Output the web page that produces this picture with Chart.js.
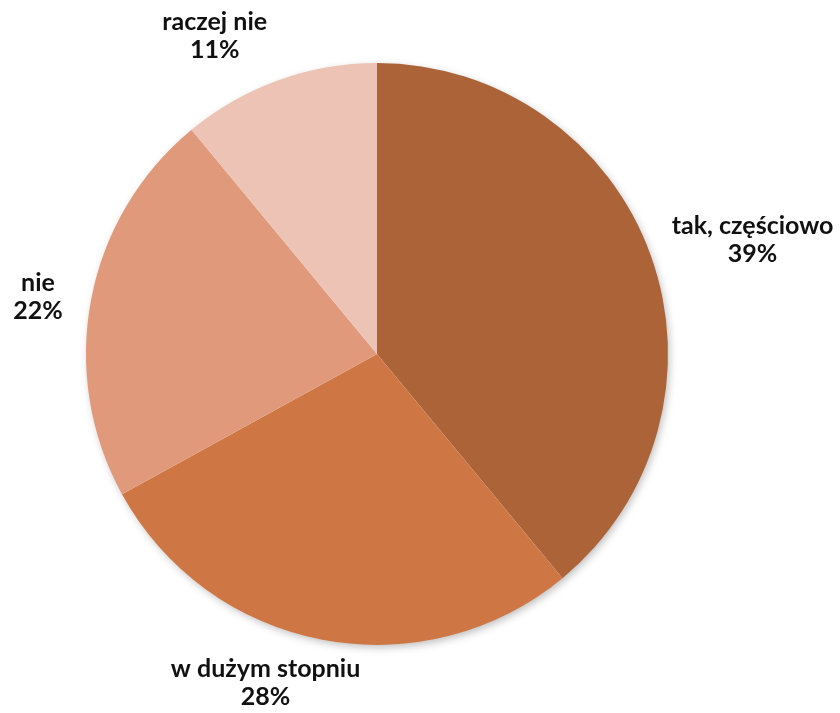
<!DOCTYPE html>
<html>
<head>
<meta charset="utf-8">
<script src="https://cdn.jsdelivr.net/npm/chart.js@4"></script>
<style>
  html, body { margin: 0; padding: 0; background: #fff; }
  #wrap { width: 840px; height: 713px; }
</style>
</head>
<body>
<div id="wrap"><canvas id="myChart" width="840" height="713"></canvas></div>
<script>
  // data block
  const labels = ['tak, częściowo', 'w dużym stopniu', 'nie', 'raczej nie'];
  const values = [39, 28, 22, 11];
  const colors = ['#AD6338', '#CE7744', '#E0997A', '#EDC3B5'];

  // label placement tweaks (px, relative to point at 1.2 * radius)
  const labelShift = [[47, 4], [-46, -14], [4, 8], [-44, 10]];

  // soft shadow under the pie
  const pieShadow = {
    id: 'pieShadow',
    beforeDatasetsDraw(chart) {
      const arc = chart.getDatasetMeta(0).data[0];
      if (!arc) return;
      const ctx = chart.ctx;
      ctx.save();
      ctx.shadowColor = 'rgba(0,0,0,0.28)';
      ctx.shadowBlur = 9;
      ctx.shadowOffsetX = 2;
      ctx.shadowOffsetY = 3;
      ctx.fillStyle = '#fff';
      ctx.beginPath();
      ctx.arc(arc.x, arc.y, arc.outerRadius - 1, 0, Math.PI * 2);
      ctx.fill();
      ctx.restore();
    }
  };

  // outside labels
  const outLabels = {
    id: 'outLabels',
    afterDatasetsDraw(chart) {
      const ctx = chart.ctx;
      const total = values.reduce((a, b) => a + b, 0);
      ctx.save();
      ctx.fillStyle = '#111';
      ctx.font = 'bold 25px Lato';
      ctx.textAlign = 'center';
      ctx.textBaseline = 'middle';
      chart.getDatasetMeta(0).data.forEach((arc, i) => {
        const mid = (arc.startAngle + arc.endAngle) / 2;
        const r = arc.outerRadius * 1.2;
        const x = arc.x + Math.cos(mid) * r + labelShift[i][0];
        const y = arc.y + Math.sin(mid) * r + labelShift[i][1];
        const pct = Math.round(values[i] / total * 100) + '%';
        ctx.fillText(labels[i], x, y - 14);
        ctx.fillText(pct, x, y + 14);
      });
      ctx.restore();
    }
  };

  const data = {
    labels: labels,
    datasets: [{
      data: values,
      backgroundColor: colors,
      borderWidth: 0
    }]
  };

  const config = {
    type: 'pie',
    data: data,
    options: {
      responsive: false,
      animation: false,
      layout: { padding: { left: 86, right: 172, top: 63, bottom: 68 } },
      plugins: {
        legend: { display: false },
        tooltip: { enabled: false }
      }
    },
    plugins: [pieShadow, outLabels]
  };

  const myChart = new Chart(
    document.getElementById('myChart'),
    config
  );
</script>
</body>
</html>
